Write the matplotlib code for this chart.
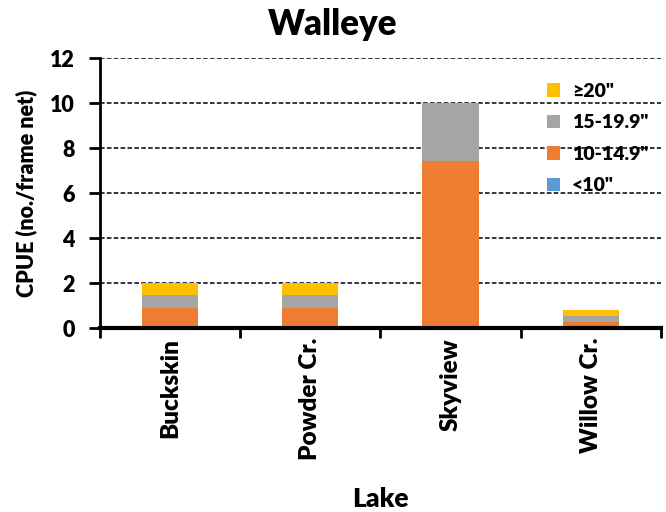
import matplotlib.pyplot as plt
import numpy as np

plt.rcParams['font.family'] = ['Lato', 'DejaVu Sans']

lakes = ['Buckskin', 'Powder Cr.', 'Skyview', 'Willow Cr.']
lt10 = [0.0, 0.0, 0.0, 0.0]
s10_14 = [0.92, 0.92, 7.43, 0.27]
s15_19 = [0.54, 0.54, 2.57, 0.27]
ge20 = [0.54, 0.54, 0.0, 0.27]

colors = {'<10"': '#5B9BD5', '10-14.9"': '#ED7D31', '15-19.9"': '#A5A5A5', '≥20"': '#FFC000'}
wt = 'heavy'

fig = plt.figure(figsize=(6.66, 5.12), dpi=100)
ax = fig.add_axes([0.1502, 0.359, 0.842, 0.527])

x = np.arange(len(lakes))
w = 0.4
bottom = np.zeros(len(lakes))
handles = {}
for name, vals in [('<10"', lt10), ('10-14.9"', s10_14), ('15-19.9"', s15_19), ('≥20"', ge20)]:
    handles[name] = ax.bar(x, vals, w, bottom=bottom, color=colors[name], label=name, zorder=2)
    bottom += np.array(vals)

ax.set_xlim(-0.5, len(lakes) - 0.5)
ax.set_ylim(0, 12)
ax.set_yticks(range(0, 13, 2))
ax.set_yticklabels([str(v) for v in range(0, 13, 2)], fontsize=15.5, fontweight=wt)
ax.yaxis.grid(True, linestyle=(0, (3, 1.5)), color='black', linewidth=1.1, zorder=0)
ax.set_axisbelow(True)

ax.set_xticks(x)
ax.set_xticklabels(lakes, rotation=90, fontsize=17.5, fontweight=wt)
ax.set_xticks(np.arange(-0.5, len(lakes)), minor=True)
ax.tick_params(axis='x', which='major', length=0, pad=7)
ax.tick_params(axis='x', which='minor', length=7, width=2, direction='out')
ax.tick_params(axis='y', length=8, width=2, direction='out', pad=10)

for s in ['top', 'right']:
    ax.spines[s].set_visible(False)
ax.spines['left'].set_linewidth(2)
ax.spines['bottom'].set_linewidth(3)

ax.set_ylabel('CPUE (no./frame net)', fontsize=15.5, fontweight=wt)
ax.yaxis.set_label_coords(-0.112, 0.5)
ax.set_xlabel('Lake', fontsize=19, fontweight=wt)
ax.xaxis.set_label_coords(0.5, -0.59)
fig.text(0.5, 1 - 35 / 512, 'Walleye', fontsize=25, fontweight=wt, ha='center', va='baseline')

order = ['≥20"', '15-19.9"', '10-14.9"', '<10"']
leg = ax.legend([handles[k] for k in order], order, loc='upper left',
                bbox_to_anchor=(0.765, 0.975), frameon=False,
                handlelength=0.7, handleheight=0.7, labelspacing=0.75, handletextpad=0.6,
                prop={'weight': wt, 'size': 14})

fig.savefig('out.png', dpi=100)
